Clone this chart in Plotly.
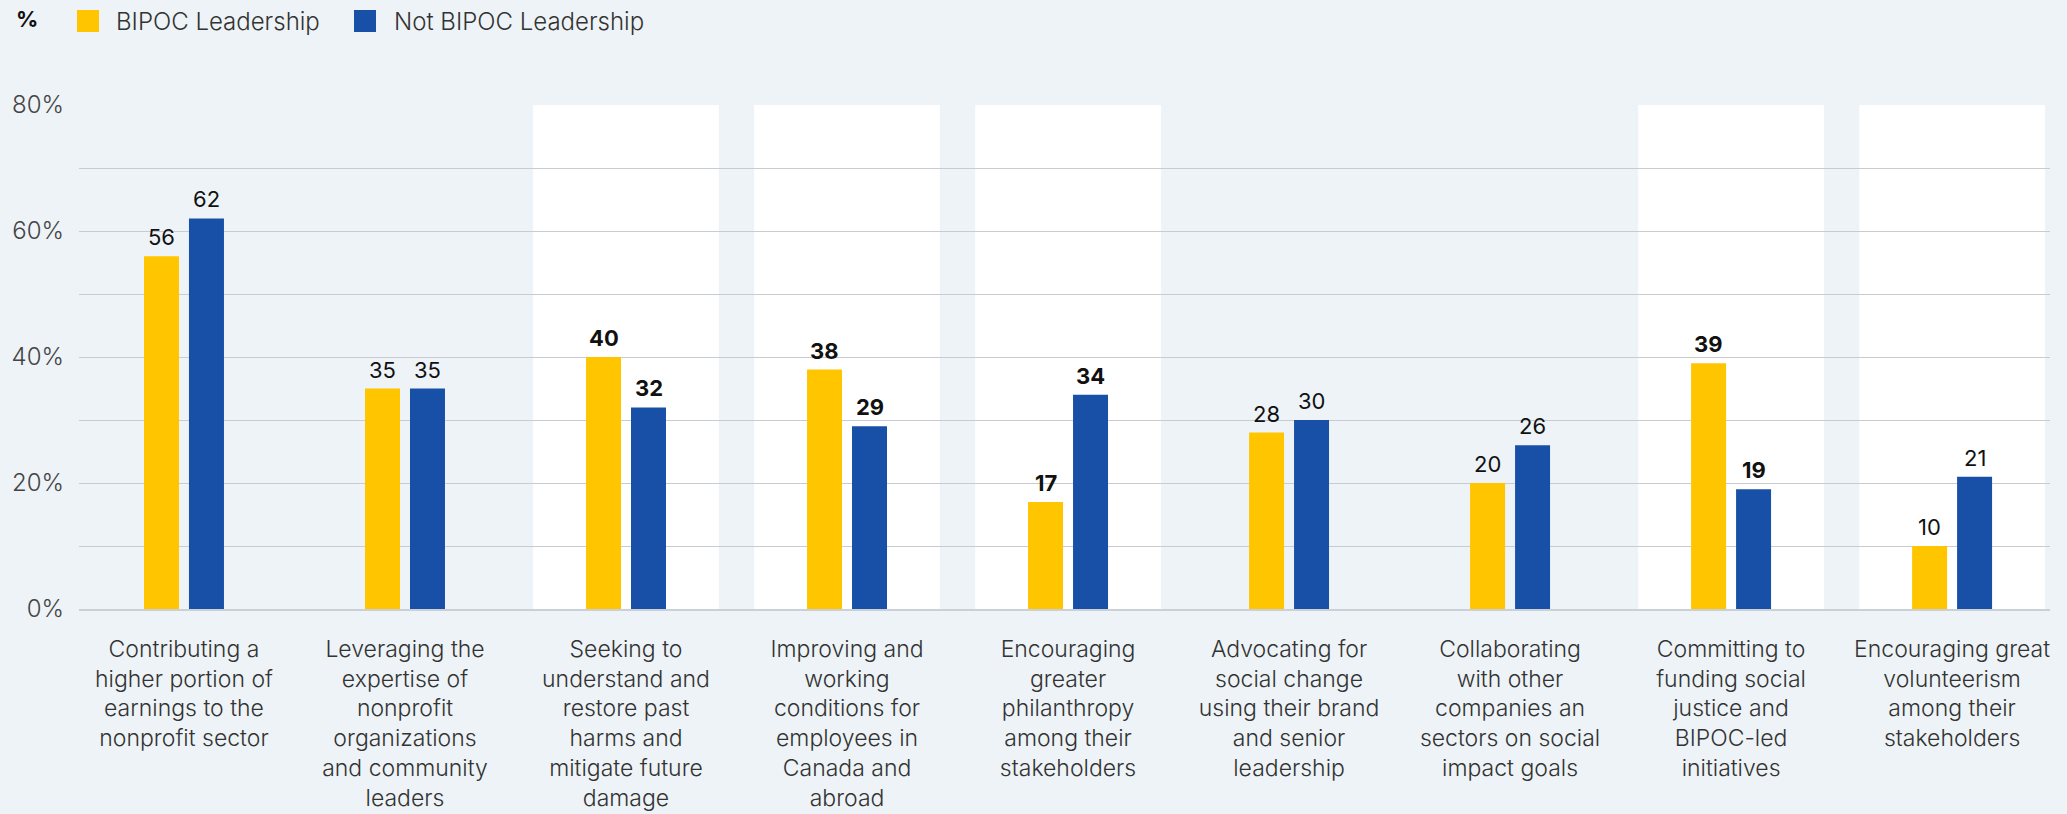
import plotly.graph_objects as go

# ---------------- data ----------------
categories = [
    "Contributing a<br>higher portion of<br>earnings to the<br>nonprofit sector",
    "Leveraging the<br>expertise of<br>nonprofit<br>organizations<br>and community<br>leaders",
    "Seeking to<br>understand and<br>restore past<br>harms and<br>mitigate future<br>damage",
    "Improving and<br>working<br>conditions for<br>employees in<br>Canada and<br>abroad",
    "Encouraging<br>greater<br>philanthropy<br>among their<br>stakeholders",
    "Advocating for<br>social change<br>using their brand<br>and senior<br>leadership",
    "Collaborating<br>with other<br>companies an<br>sectors on social<br>impact goals",
    "Committing to<br>funding social<br>justice and<br>BIPOC-led<br>initiatives",
    "Encouraging great<br>volunteerism<br>among their<br>stakeholders",
]
series_names = ["BIPOC Leadership", "Not BIPOC Leadership"]
bipoc = [56, 35, 40, 38, 17, 28, 20, 39, 10]
not_bipoc = [62, 35, 32, 29, 34, 30, 26, 19, 21]
highlighted = [False, False, True, True, True, False, False, True, True]
bold_values = [False, False, True, True, True, False, False, True, False]
y_tickvals = [0, 10, 20, 30, 40, 50, 60, 70, 80]
y_ticktext = ["0%", "", "20%", "", "40%", "", "60%", "", "80%"]
y_title = "%"

# ---------------- style ----------------
YELLOW = "#FFC600"
BLUE = "#1850A8"
BG = "#EEF3F7"
GRID = "#C8CCD2"
FONT = "Inter"
W, H = 2067, 814
ML, MR, MT, MB = 79, 17, 105, 205
PW, PH = W - ML - MR, H - MT - MB


def px_x(px):
    return (px - ML) / PW


def px_y(py):
    return (H - MB - py) / PH


fig = go.Figure()
colors = [YELLOW, BLUE]
for name, vals, col in zip(series_names, [bipoc, not_bipoc], colors):
    fig.add_trace(go.Bar(x=categories, y=vals, name=name, marker_color=col,
                         marker_line_width=0, showlegend=False, hoverinfo="x+y"))

shapes = []
for i, h in enumerate(highlighted):
    if h:
        shapes.append(dict(type="rect", xref="x", yref="y", x0=i - 0.42, x1=i + 0.42,
                           y0=0, y1=80, fillcolor="white", line_width=0, layer="below"))

annotations = []
offsets = [-22.5, 22.5]
for s, vals in enumerate([bipoc, not_bipoc]):
    for i, v in enumerate(vals):
        annotations.append(dict(
            x=categories[i], y=v, xref="x", yref="y", text=str(v), showarrow=False,
            xshift=offsets[s], yshift=4, yanchor="bottom", xanchor="center",
            font=dict(family=FONT, size=22, color="#111111",
                      weight=700 if bold_values[i] else 400)))

# custom legend (swatches + labels)
legend_items = [(77, 114), (354, 392)]
for (sx, tx), name, col in zip(legend_items, series_names, colors):
    shapes.append(dict(type="rect", xref="paper", yref="paper",
                       x0=px_x(sx), x1=px_x(sx + 22), y0=px_y(32), y1=px_y(10),
                       fillcolor=col, line_width=0))
    annotations.append(dict(xref="paper", yref="paper", x=px_x(tx), y=px_y(22),
                            xanchor="left", yanchor="middle", showarrow=False, text=name,
                            font=dict(family=FONT, size=24, color="#333333", weight=300)))

annotations.append(dict(xref="paper", yref="paper", x=px_x(14), y=px_y(19),
                        xanchor="left", yanchor="middle", showarrow=False, text=y_title,
                        font=dict(family=FONT, size=22, color="#111111", weight=700)))

fig.update_layout(
    width=W, height=H,
    margin=dict(l=ML, r=MR, t=MT, b=MB, pad=0, autoexpand=False),
    paper_bgcolor=BG, plot_bgcolor=BG,
    barmode="group", bargap=0.593, bargroupgap=0.222,
    shapes=shapes, annotations=annotations,
    font=dict(family=FONT, color="#333333"),
    showlegend=False,
    xaxis=dict(range=[-0.475, 8.443], showgrid=False, ticks="", showline=True,
               linecolor="#CBD0D6", linewidth=2, automargin=False,
               tickfont=dict(family=FONT, size=23, color="#333333", weight=300),
               ticklabelstandoff=18, fixedrange=True),
    yaxis=dict(range=[0, 80], tickvals=y_tickvals, ticktext=y_ticktext,
               showgrid=True, gridcolor=GRID, gridwidth=1, zeroline=False,
               automargin=False, ticks="",
               tickfont=dict(family=FONT, size=24, color="#444444", weight=300),
               ticklabelstandoff=14, fixedrange=True),
)

fig.write_html("out.html")
